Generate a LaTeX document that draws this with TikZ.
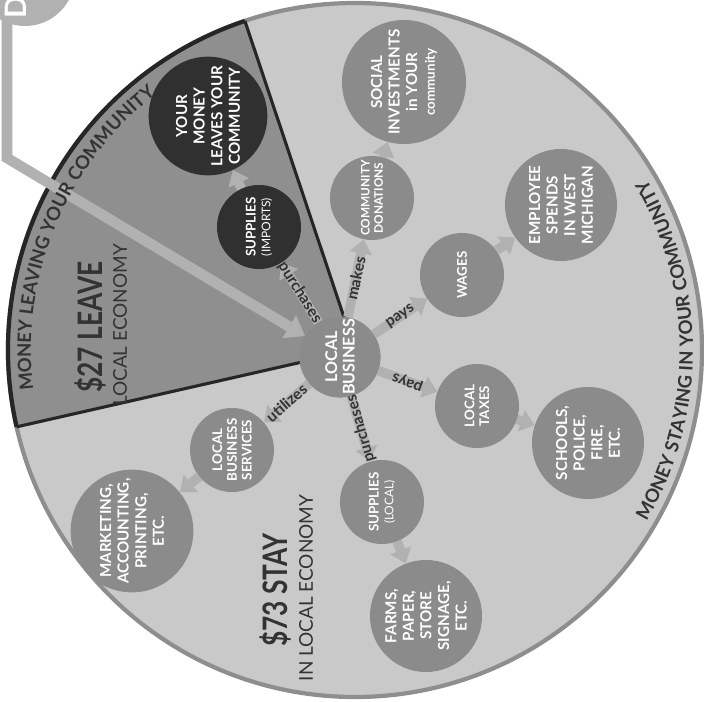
\documentclass[tikz,border=0pt]{standalone}
\usepackage{fontspec}
\setmainfont{Lato}
\newfontfamily\narrowfont[FakeStretch=0.78]{Lato}
\usetikzlibrary{arrows.meta, backgrounds, decorations.text}
\definecolor{fillGray}{HTML}{C9C9C9}
\definecolor{ringGray}{HTML}{8E8E8E}
\definecolor{sectorGray}{HTML}{8F8F8F}
\definecolor{nodeGray}{HTML}{8B8B8B}
\definecolor{darkNode}{HTML}{303030}
\definecolor{arrowGray}{HTML}{B1B1B1}
\definecolor{inkColor}{HTML}{333333}
\definecolor{borderDark}{HTML}{262626}
\newcommand{\nodesub}[1]{{\mdseries\fontsize{8.5}{9.5}\selectfont #1}}
\newcommand{\rimfont}{\bfseries\fontsize{13.2}{14}\selectfont}
\tikzset{
    hub_node/.style={
        circle,
        fill=nodeGray,
        text=white,
        minimum size=1.9cm,
        inner sep=0pt,
        align=center,
        rotate=90,
        font=\bfseries\fontsize{11.5}{12.5}\selectfont
    },
    flow_node/.style={
        hub_node,
        minimum size=2.1cm,
        font=\bfseries\fontsize{9.5}{10.5}\selectfont
    },
    sink_node/.style={
        hub_node,
        minimum size=2.8cm,
        font=\bfseries\fontsize{10.8}{12.5}\selectfont
    },
    leak_node/.style={
        fill=darkNode
    },
    flow_edge/.style={
        -{Triangle[length=10pt, width=16pt, line width=0pt]},
        line width=6.8pt,
        color=arrowGray
    },
    flow_label/.style={
        text=inkColor,
        inner sep=1pt,
        font=\bfseries\fontsize{11}{11}\selectfont
    },
    feed_line/.style={
        -{Triangle[length=13pt, width=19pt, line width=0pt]},
        line width=7.5pt,
        color=arrowGray
    },
    amount_text/.style={
        rotate=90,
        text=inkColor,
        font=\narrowfont\bfseries\fontsize{24}{25}\selectfont
    },
    amount_note/.style={
        rotate=90,
        text=inkColor,
        font=\fontsize{13.5}{14}\selectfont
    },
    rim_text/.style={
        decorate,
        decoration={text along path, text align=center, text color=inkColor,
            text={#1}}
    }
}

\begin{document}
\begin{tikzpicture}[x=0.025cm, y=0.025cm]
    \useasboundingbox (-355,-352) rectangle (349,350);
    \clip (-355,-352) rectangle (349,350);

    % the wheel and the part that leaves
    \begin{scope}[on background layer]
        \filldraw[fill=fillGray, draw=ringGray, line width=3pt] (0,0) circle (347);
        \fill[sectorGray] (0,0) -- (192.8:347) arc[start angle=192.8, end angle=108.5, radius=347] -- cycle;
        \draw[borderDark, line width=3pt] (192.8:347) arc[start angle=192.8, end angle=108.5, radius=347];
        \draw[borderDark, line width=2.2pt] (108.5:347) -- (0,0) -- (192.8:347);
    \end{scope}

    \node[hub_node] (biz) at (-15,-7) {LOCAL\\BUSINESS};
    \node[flow_node, leak_node] (imports) at (-96,123) {SUPPLIES\\\nodesub{(IMPORTS)}};
    \node[sink_node, leak_node] (leaves) at (-147,234) {YOUR\\MONEY\\LEAVES YOUR\\COMMUNITY};
    \node[flow_node, font=\bfseries\fontsize{8.4}{9.5}\selectfont] (donations) at (17,152) {COMMUNITY\\DONATIONS};
    \node[sink_node] (social) at (49,268) {SOCIAL\\INVESTMENTS\\in YOUR\\{\fontsize{9.5}{10}\selectfont community}};
    \node[flow_node] (wages) at (107,75) {WAGES};
    \node[sink_node] (employee) at (206,145) {EMPLOYEE\\SPENDS\\IN WEST\\MICHIGAN};
    \node[flow_node] (taxes) at (122,-56) {LOCAL\\TAXES};
    \node[sink_node] (schools) at (233,-93) {SCHOOLS,\\POLICE,\\FIRE,\\ETC.};
    \node[flow_node] (supplocal) at (27,-152) {SUPPLIES\\\nodesub{(LOCAL)}};
    \node[sink_node] (farms) at (71,-266) {FARMS,\\PAPER,\\STORE\\SIGNAGE,\\ETC.};
    \node[flow_node] (services) at (-123,-100) {LOCAL\\BUSINESS\\SERVICES};
    \node[sink_node] (marketing) at (-223,-181) {MARKETING,\\ACCOUNTING,\\PRINTING,\\ETC.};

    \node[amount_text] (leave_amt) at (-265,23) {\$27 LEAVE};
    \node[amount_note] (leave_note) at (-235,25) {LOCAL ECONOMY};
    \node[amount_text] (stay_amt) at (-80,-240) {\$73 STAY};
    \node[amount_note] (stay_note) at (-49,-238) {IN LOCAL ECONOMY};

    % the dollar coming in
    \coordinate (dtop) at (-348,340);
    \coordinate (dbend) at (-348,192);
    \draw[feed_line] (dtop) -- (dbend) -- (biz);
    \node[circle, fill=arrowGray, minimum size=2.5cm] (dcirc) at (-330,374) {};
    \node[rotate=90, text=white, font=\bfseries\fontsize{21}{21}\selectfont] (dletter) at (-339,343) {D};

    \begin{scope}[execute at begin scope={\rimfont}]
        \path[rim_text={MONEY LEAVING YOUR COMMUNITY}] (200:324) arc[start angle=200, end angle=115, radius=324];
        \path[rim_text={MONEY STAYING IN YOUR COMMUNITY}] (-45:338) arc[start angle=-45, end angle=45, radius=338];
    \end{scope}

    \draw[flow_edge]
        (biz) edge node[flow_label, rotate=-58] {purchases} (imports)
        (biz) edge node[flow_label, rotate=78] {makes} (donations)
        (biz) edge node[flow_label, rotate=34] {pays} (wages)
        (biz) edge node[flow_label, rotate=160] {pays} (taxes)
        (biz) edge node[flow_label, rotate=106] {purchases} (supplocal)
        (biz) edge node[flow_label, rotate=41] {utilizes} (services)
        (imports) edge (leaves)
        (donations) edge (social)
        (wages) edge (employee)
        (taxes) edge (schools)
        (supplocal) edge (farms)
        (services) edge (marketing);
\end{tikzpicture}
\end{document}
